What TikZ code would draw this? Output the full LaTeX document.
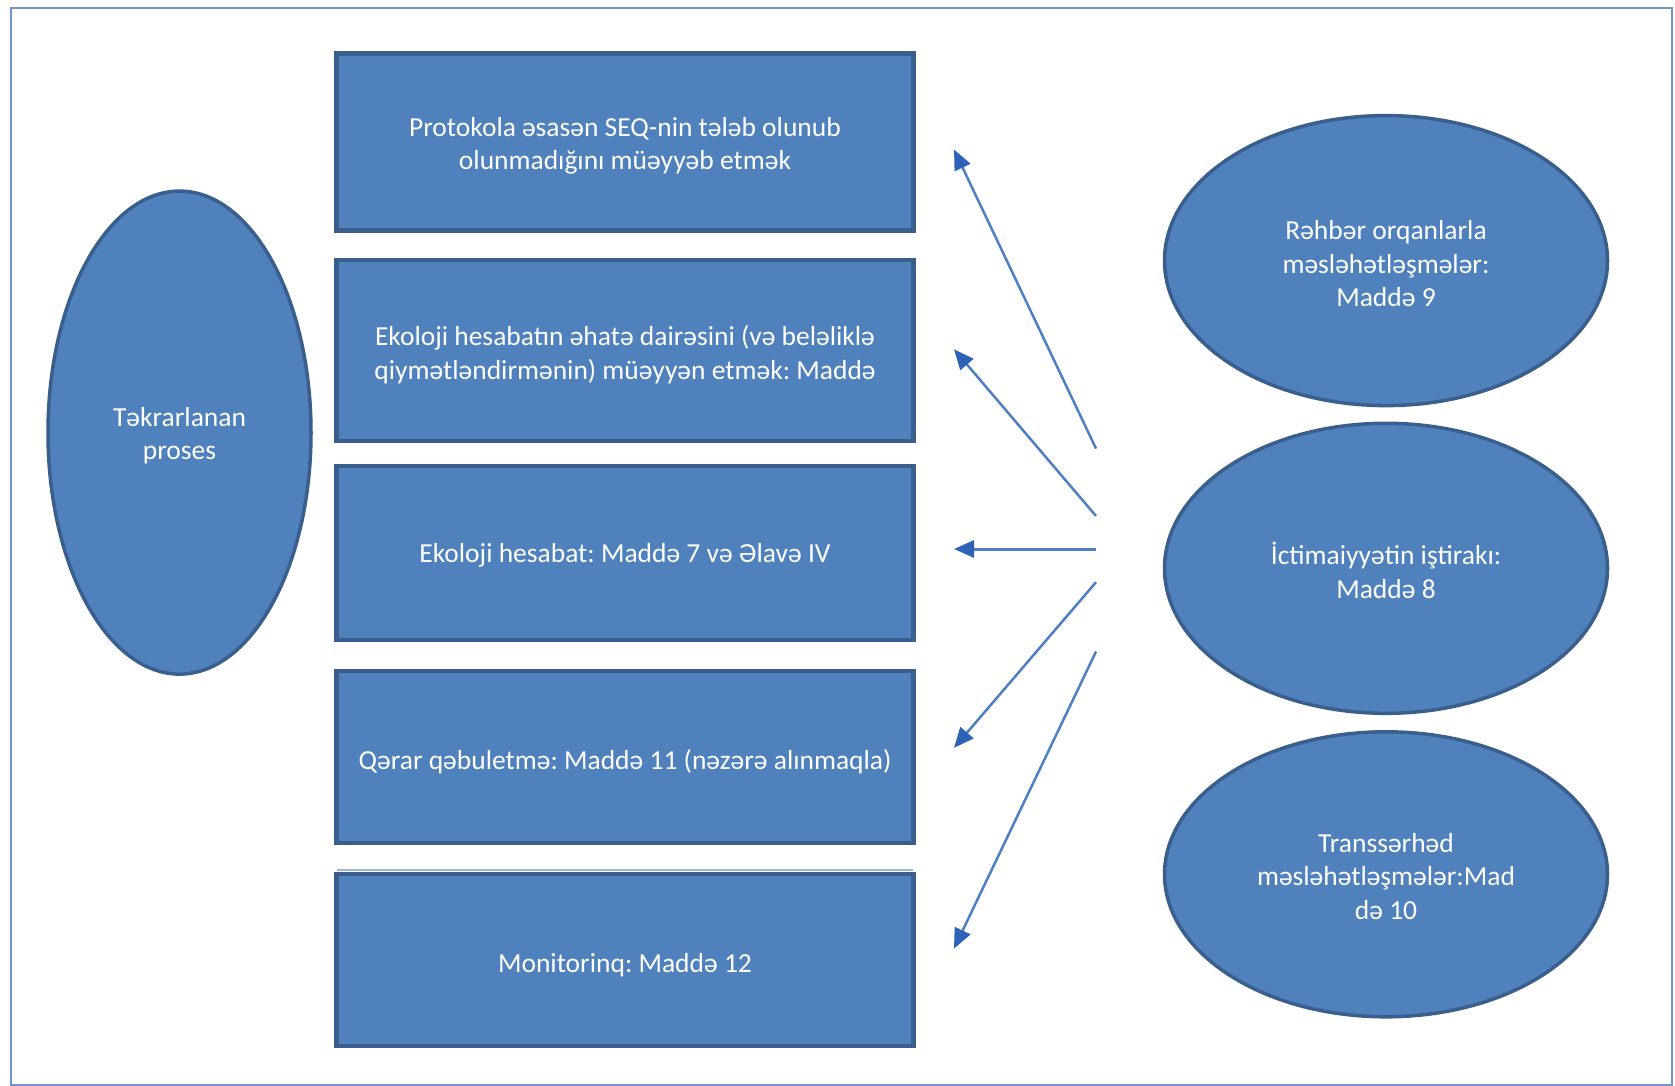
\documentclass[tikz,border=0pt]{standalone}
\usepackage{fontspec}
\setmainfont{Carlito}
\usetikzlibrary{shapes.geometric,arrows.meta}
\definecolor{fillblue}{HTML}{4F81BD}
\definecolor{edgeblue}{HTML}{3A5F8D}
\definecolor{arrowblue}{HTML}{4F80C4}
\definecolor{tipblue}{HTML}{2E62B8}
\definecolor{frameblue}{HTML}{7393CC}
\definecolor{faintblue}{HTML}{9DB6DE}
\frenchspacing
\begin{document}
\begin{tikzpicture}[x=1pt,y=-1pt,
  lbl/.style={text=white,align=center,font=\fontsize{27.5}{33.6}\selectfont,inner sep=0pt},
  stepbox/.style={draw=edgeblue,fill=fillblue,line width=4.5pt,minimum width=577pt,inner sep=0pt,rectangle},
  oval/.style={ellipse,draw=edgeblue,fill=fillblue,line width=3.5pt,inner sep=0pt},
  conn/.style={draw=arrowblue,line width=2.5pt,-{Triangle[length=20pt,width=17pt,color=tipblue]}}
]
\fill[white] (0,0) rectangle (1675,1086);
\useasboundingbox (0,0) rectangle (1675,1086);
\draw[frameblue,line width=2pt] (11,8) rectangle (1672,1085);

% boxes
\node[stepbox,minimum height=177pt] (b1) at (625,142) {};
\node[stepbox,minimum height=181pt] (b2) at (625,350.4) {};
\node[stepbox,minimum height=174pt] (b3) at (625,552.8) {};
\node[stepbox,minimum height=172pt] (b4) at (625,756.8) {};
\draw[faintblue,line width=1.5pt] (337,870) -- (913,870);
\node[stepbox,minimum height=172pt] (b5) at (625,959.8) {};

% ellipses
\node[oval,minimum width=263pt,minimum height=483pt] (left) at (179.5,432.6) {};
\node[oval,minimum width=443pt,minimum height=290pt] (e1) at (1386,260.6) {};
\node[oval,minimum width=443pt,minimum height=290pt] (e2) at (1386,568.3) {};
\node[oval,minimum width=443pt,minimum height=285pt] (e3) at (1386,874.3) {};

% texts
\node[lbl] (b1t) at ([yshift=-4pt]b1.center) {Protokola əsasən SEQ-nin tələb olunub\\olunmadığını müəyyəb etmək};
\node[lbl] (b2t) at ([yshift=-4pt]b2.center) {Ekoloji hesabatın əhatə dairəsini (və beləliklə\\qiymətləndirmənin) müəyyən etmək: Maddə};
\node[lbl] (b3t) at ([yshift=-3pt]b3.center) {Ekoloji hesabat: Maddə 7 və Əlavə IV};
\node[lbl] (b4t) at ([yshift=-5pt]b4.center) {Qərar qəbuletmə: Maddə 11 (nəzərə alınmaqla)};
\node[lbl] (b5t) at ([yshift=-5pt]b5.center) {Monitorinq: Maddə 12};
\node[lbl] (leftt) at ([yshift=-3pt]left.center) {Təkrarlanan\\proses};
\node[lbl] (e1t) at ([yshift=-3pt]e1.center) {Rəhbər orqanlarla\\məsləhətləşmələr:\\Maddə 9};
\node[lbl] (e2t) at ([yshift=-2pt]e2.center) {İctimaiyyətin iştirakı:\\Maddə 8};
\node[lbl] (e3t) at ([yshift=-2pt]e3.center) {Transsərhəd\\məsləhətləşmələr:Mad\\də 10};

% arrow endpoints
\coordinate (s1) at (1096,448.6);
\coordinate (t1) at (954,149.5);
\coordinate (s2) at (1096,516);
\coordinate (t2) at (954,349.3);
\coordinate (s3) at (1096,549);
\coordinate (t3) at (954,549);
\coordinate (s4) at (1096,582.2);
\coordinate (t4) at (954,747.8);
\coordinate (s5) at (1096,651.6);
\coordinate (t5) at (954,948.6);

\draw[conn] (s1) -- (t1);
\draw[conn] (s2) -- (t2);
\draw[conn,line width=3pt] (s3) -- (t3);
\draw[conn] (s4) -- (t4);
\draw[conn] (s5) -- (t5);
\end{tikzpicture}
\end{document}
